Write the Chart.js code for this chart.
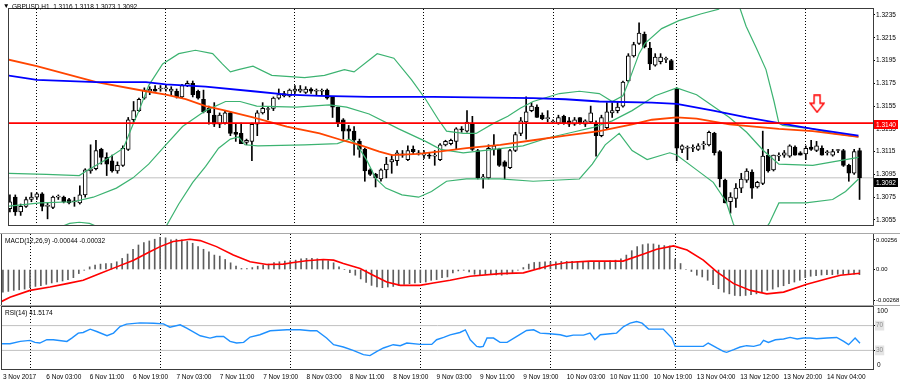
<!DOCTYPE html>
<html>
<head>
<meta charset="utf-8">
<title>GBPUSD,H1</title>
<script src="https://cdn.jsdelivr.net/npm/chart.js@4.4.1/dist/chart.umd.min.js"></script>
<style>
  html, body { margin: 0; padding: 0; background: #fff; }
  #wrap { position: relative; width: 900px; height: 384px; overflow: hidden; font-family: "Liberation Sans", Arial, sans-serif; }
  .pane { position: absolute; left: 0; }
  .txt { position: absolute; font-size: 6.5px; line-height: 8px; color: #000; white-space: pre; }
  .tag { position: absolute; left: 874px; width: 24px; height: 9px; font-size: 6.5px; line-height: 9px; color: #fff; text-align: center; }
  .sep { position: absolute; left: 0; width: 900px; height: 1px; background: #a8a8a8; }
</style>
</head>
<body>
<div id="wrap">
  <canvas id="chart-main" class="pane" width="900" height="234" style="top:0"></canvas>
  <canvas id="chart-macd" class="pane" width="900" height="74" style="top:233px"></canvas>
  <canvas id="chart-rsi" class="pane" width="900" height="78" style="top:306px"></canvas>
  <div class="sep" style="top:233px"></div>
  <div class="sep" style="top:305px"></div>

  <div class="txt" style="left:3px;top:2px;">▼</div>
  <div class="txt" style="left:12px;top:2.5px;">GBPUSD,H1  1.3116 1.3118 1.3073 1.3092</div>
  <div class="txt" style="left:5px;top:237px;">MACD(12,26,9) -0.00044 -0.00032</div>
  <div class="txt" style="left:5px;top:309px;">RSI(14) 41.5174</div>
  <div class="txt" style="left:877px;top:307px;">100</div>
  <div class="txt" style="left:877px;top:361px;">0</div>
  <div class="tag" style="top:119.5px;background:#ff0000;">1.3140</div>
  <div class="tag" style="top:177.5px;background:#000;">1.3092</div>
</div>
<script>
const FONT = "'Liberation Sans', Arial, sans-serif";
const X_MIN = -0.17;
const X_MAX = 160.5;
const PRICE_MIN = 1.30506;
const PRICE_MAX = 1.32402;
const MACD_MIN = -0.00315;
const MACD_MAX = 0.00307;

// hourly candles, 3 Nov 19:00 .. 14 Nov 10:00
const openP = [1.3065,1.3075,1.3062,1.3067,1.3073,1.3075,1.3078,1.3067,1.3066,1.3075,
  1.3075,1.3073,1.3071,1.3070,1.3077,1.3098,1.3100,1.3117,1.3110,1.3107,
  1.3098,1.3103,1.3117,1.3143,1.3151,1.3162,1.3168,1.3170,1.3170,1.3170,
  1.3168,1.3168,1.3163,1.3173,1.3175,1.3168,1.3161,1.3153,1.3147,1.3139,
  1.3140,1.3149,1.3132,1.3131,1.3123,1.3124,1.3139,1.3149,1.3152,1.3153,
  1.3162,1.3164,1.3164,1.3168,1.3168,1.3167,1.3170,1.3168,1.3168,1.3169,
  1.3163,1.3154,1.3143,1.3135,1.3133,1.3124,1.3117,1.3099,1.3095,1.3091,
  1.3099,1.3106,1.3107,1.3112,1.3108,1.3117,1.3113,1.3112,1.3112,1.3111,
  1.3108,1.3121,1.3122,1.3124,1.3135,1.3133,1.3140,1.3116,1.3092,1.3092,
  1.3117,1.3117,1.3106,1.3101,1.3116,1.3131,1.3141,1.3151,1.3154,1.3147,
  1.3144,1.3141,1.3140,1.3146,1.3142,1.3139,1.3145,1.3139,1.3141,1.3140,
  1.3129,1.3136,1.3149,1.3151,1.3155,1.3177,1.3199,1.3210,1.3218,1.3206,
  1.3191,1.3194,1.3196,1.3195,1.3170,1.3117,1.3118,1.3118,1.3117,1.3121,
  1.3121,1.3131,1.3115,1.3090,1.3071,1.3074,1.3083,1.3090,1.3097,1.3084,
  1.3087,1.3112,1.3099,1.3111,1.3112,1.3111,1.3119,1.3114,1.3113,1.3119,
  1.3116,1.3118,1.3114,1.3112,1.3116,1.3116,1.3103,1.3096,1.3116];
const highP = [1.3077,1.3077,1.3069,1.3075,1.3079,1.3079,1.3079,1.3070,1.3076,1.3077,
  1.3076,1.3074,1.3075,1.3085,1.3100,1.3121,1.3125,1.3118,1.3114,1.3112,
  1.3106,1.3120,1.3145,1.3159,1.3162,1.3171,1.3172,1.3173,1.3173,1.3174,
  1.3172,1.3170,1.3174,1.3177,1.3177,1.3169,1.3169,1.3155,1.3158,1.3149,
  1.3151,1.3150,1.3139,1.3140,1.3126,1.3140,1.3151,1.3158,1.3154,1.3163,
  1.3170,1.3168,1.3170,1.3173,1.3173,1.3172,1.3171,1.3170,1.3170,1.3170,
  1.3163,1.3154,1.3144,1.3138,1.3137,1.3126,1.3118,1.3100,1.3096,1.3100,
  1.3110,1.3112,1.3116,1.3116,1.3120,1.3120,1.3116,1.3116,1.3114,1.3116,
  1.3122,1.3125,1.3126,1.3136,1.3137,1.3151,1.3146,1.3117,1.3095,1.3121,
  1.3130,1.3118,1.3107,1.3117,1.3132,1.3145,1.3163,1.3158,1.3156,1.3149,
  1.3151,1.3143,1.3147,1.3147,1.3145,1.3145,1.3145,1.3143,1.3155,1.3142,
  1.3147,1.3158,1.3158,1.3159,1.3177,1.3201,1.3211,1.3228,1.3220,1.3211,
  1.3201,1.3201,1.3198,1.3196,1.3171,1.3121,1.3120,1.3121,1.3122,1.3124,
  1.3133,1.3132,1.3116,1.3091,1.3079,1.3087,1.3096,1.3100,1.3099,1.3089,
  1.3133,1.3117,1.3112,1.3114,1.3116,1.3121,1.3120,1.3115,1.3120,1.3125,
  1.3124,1.3120,1.3116,1.3117,1.3117,1.3117,1.3104,1.3117,1.3118];
const lowP = [1.3062,1.3059,1.3059,1.3066,1.3071,1.3073,1.3063,1.3056,1.3065,1.3073,
  1.3070,1.3069,1.3067,1.3069,1.3075,1.3096,1.3099,1.3104,1.3094,1.3097,
  1.3096,1.3102,1.3116,1.3141,1.3150,1.3161,1.3165,1.3168,1.3168,1.3168,
  1.3165,1.3162,1.3162,1.3172,1.3163,1.3161,1.3149,1.3139,1.3137,1.3136,
  1.3139,1.3129,1.3124,1.3122,1.3121,1.3107,1.3129,1.3148,1.3143,1.3151,
  1.3161,1.3163,1.3163,1.3166,1.3167,1.3166,1.3166,1.3165,1.3165,1.3161,
  1.3145,1.3137,1.3126,1.3126,1.3112,1.3110,1.3089,1.3094,1.3084,1.3089,
  1.3092,1.3096,1.3103,1.3110,1.3107,1.3113,1.3112,1.3109,1.3109,1.3103,
  1.3107,1.3120,1.3121,1.3117,1.3132,1.3132,1.3116,1.3091,1.3083,1.3091,
  1.3112,1.3102,1.3091,1.3100,1.3115,1.3129,1.3126,1.3150,1.3145,1.3143,
  1.3141,1.3140,1.3139,1.3139,1.3137,1.3138,1.3139,1.3137,1.3140,1.3111,
  1.3128,1.3135,1.3145,1.3149,1.3154,1.3176,1.3198,1.3209,1.3206,1.3187,
  1.3190,1.3192,1.3193,1.3187,1.3107,1.3114,1.3108,1.3115,1.3116,1.3117,
  1.3120,1.3112,1.3084,1.3070,1.3061,1.3066,1.3079,1.3088,1.3074,1.3083,
  1.3086,1.3097,1.3098,1.3107,1.3110,1.3110,1.3112,1.3112,1.3108,1.3116,
  1.3115,1.3112,1.3112,1.3111,1.3114,1.3102,1.3089,1.3095,1.3073];
const closeP = [1.3071,1.3062,1.3067,1.3073,1.3075,1.3078,1.3067,1.3067,1.3075,1.3076,
  1.3071,1.3070,1.3071,1.3077,1.3099,1.3100,1.3116,1.3110,1.3104,1.3098,
  1.3103,1.3118,1.3143,1.3151,1.3161,1.3169,1.3170,1.3168,1.3170,1.3171,
  1.3170,1.3163,1.3173,1.3175,1.3165,1.3162,1.3150,1.3149,1.3139,1.3147,
  1.3149,1.3131,1.3130,1.3122,1.3125,1.3139,1.3149,1.3153,1.3152,1.3162,
  1.3165,1.3166,1.3169,1.3170,1.3170,1.3170,1.3168,1.3168,1.3168,1.3162,
  1.3154,1.3140,1.3133,1.3133,1.3125,1.3117,1.3098,1.3095,1.3092,1.3099,
  1.3104,1.3108,1.3114,1.3113,1.3116,1.3115,1.3113,1.3112,1.3111,1.3111,
  1.3121,1.3124,1.3125,1.3135,1.3134,1.3141,1.3117,1.3092,1.3092,1.3118,
  1.3120,1.3103,1.3102,1.3116,1.3130,1.3142,1.3150,1.3155,1.3145,1.3144,
  1.3144,1.3141,1.3145,1.3140,1.3139,1.3143,1.3140,1.3142,1.3149,1.3129,
  1.3145,1.3150,1.3151,1.3154,1.3176,1.3199,1.3209,1.3219,1.3207,1.3192,
  1.3198,1.3198,1.3196,1.3187,1.3118,1.3120,1.3118,1.3118,1.3120,1.3121,
  1.3132,1.3114,1.3091,1.3070,1.3075,1.3083,1.3091,1.3098,1.3083,1.3088,
  1.3111,1.3098,1.3112,1.3112,1.3114,1.3120,1.3112,1.3112,1.3118,1.3117,
  1.3120,1.3112,1.3114,1.3115,1.3116,1.3103,1.3096,1.3115,1.3092];

// [bar, price]
const blueMA = [[-0.5,1.3182],[5,1.3178],[16.1,1.3176],[25.3,1.3176],[29,1.3174],[36.4,1.3172],
  [45.2,1.3168],[51.5,1.3165],[57.6,1.3164],[66.8,1.3163],[78.8,1.3163],[97.3,1.3162],
  [103.3,1.3161],[109.6,1.3159],[119.4,1.3158],[124,1.3157],[130.8,1.3151],[137,1.3145],
  [143,1.3140],[149.3,1.3135],[157.8,1.3129]];
const orangeMA = [[-0.5,1.3196],[5,1.3190],[16.1,1.3176],[25.3,1.3168],[29,1.3165],[32.7,1.3161],
  [36.4,1.3155],[40.1,1.3151],[45.2,1.3145],[51.5,1.3137],[57.6,1.3131],[61.8,1.3125],
  [65,1.3121],[68.7,1.3115],[71.1,1.3112],[76,1.3113],[79.7,1.3115],[84.9,1.3118],
  [91.2,1.3121],[97.3,1.3125],[103.3,1.3129],[109.6,1.3133],[115.7,1.3139],[119.4,1.3143],
  [124,1.3145],[127.7,1.3144],[133.8,1.3139],[143,1.3135],[149.3,1.3133],[157.8,1.3128]];
const bbUpper = [[-0.5,1.3096],[6.8,1.3095],[12.9,1.3094],[14.2,1.3098],[17.9,1.3108],[21.1,1.3118],
  [22.9,1.3139],[24,1.3151],[25.8,1.3173],[28.4,1.3192],[31.4,1.3201],[34.5,1.3204],
  [37.7,1.3201],[39.5,1.3192],[41,1.3185],[42.5,1.3187],[45.2,1.3190],[48.7,1.3182],
  [54.8,1.3180],[58.5,1.3182],[62.2,1.3187],[64,1.3185],[68.3,1.3201],[71.4,1.3197],
  [74.7,1.3178],[77.3,1.3161],[79.7,1.3143],[81.2,1.3133],[84.3,1.3131],[86.7,1.3131],
  [90,1.3140],[92.6,1.3146],[94.9,1.3153],[97.3,1.3159],[102.2,1.3166],[105.9,1.3168],
  [109.6,1.3166],[112,1.3159],[114,1.3164],[115.2,1.3178],[117,1.3201],[118.1,1.3210],
  [121.2,1.3223],[124.4,1.3230],[128.6,1.3236],[131.8,1.3240],[133.6,1.3250],[135.1,1.3250],
  [136.9,1.3225],[138.8,1.3206],[140.6,1.3187],[142.1,1.3159],[143,1.3140],[143.7,1.3138],
  [149.3,1.3135],[153,1.3131],[157.8,1.3128]];
const bbMiddle = [[-0.5,1.3067],[5.6,1.3070],[11.8,1.3071],[15.5,1.3075],[19.8,1.3083],[22.9,1.3092],
  [25.8,1.3104],[29,1.3121],[32.1,1.3137],[36.4,1.3151],[40.1,1.3159],[42.8,1.3159],
  [45.9,1.3155],[53.3,1.3154],[59.4,1.3156],[62.6,1.3154],[66.8,1.3148],[72.3,1.3135],
  [77.3,1.3124],[80.1,1.3117],[84.3,1.3114],[90,1.3117],[95.4,1.3120],[100,1.3127],
  [104.6,1.3132],[108.3,1.3136],[112,1.3142],[115.7,1.3151],[120,1.3164],[124,1.3171],
  [127.7,1.3165],[133.8,1.3145],[137,1.3132],[140.1,1.3116],[143,1.3104],[149.3,1.3103],
  [153,1.3106],[155.4,1.3108],[157.8,1.3110]];
const bbLower = [[-0.5,1.3038],[6.8,1.3044],[11.1,1.3052],[12.9,1.3053],[14.8,1.3052],[17.9,1.3046],
  [23.5,1.3036],[28.1,1.3044],[29,1.3049],[31.4,1.3069],[34,1.3088],[36.4,1.3102],
  [38.8,1.3118],[41,1.3126],[42.5,1.3128],[43.7,1.3121],[46.1,1.3120],[54.8,1.3121],
  [60.9,1.3122],[63.1,1.3126],[64.4,1.3122],[66.3,1.3108],[68.1,1.3091],[69.9,1.3083],
  [72.9,1.3077],[76,1.3075],[78.4,1.3080],[81.2,1.3089],[84.9,1.3091],[91.2,1.3091],
  [97.3,1.3089],[105.9,1.3091],[108.3,1.3104],[110.7,1.3121],[113.3,1.3131],[115.7,1.3116],
  [118.5,1.3108],[122.7,1.3114],[124,1.3112],[127.7,1.3099],[130.8,1.3088],[133.2,1.3071],
  [134.5,1.3052],[136,1.3036],[138.8,1.3036],[141.2,1.3052],[143,1.3070],[148,1.3070],
  [153,1.3073],[155.4,1.3080],[157.8,1.3091]];

const priceTicks = [1.3235,1.3215,1.3195,1.3175,1.3155,1.3135,1.3115,1.3095,1.3075,1.3055];
const levelPrice = 1.3140;
const lastPrice = 1.3092;
const arrowMark = [150.1, 1.3157];

const macdHist = [-0.00195,-0.00189,-0.00180,-0.00175,-0.00169,-0.00157,-0.00146,-0.00140,-0.00128,-0.00116,
  -0.00108,-0.00099,-0.00087,-0.00070,-0.00035,-0.00006,0.00023,0.00038,0.00047,0.00052,
  0.00052,0.00067,0.00096,0.00134,0.00175,0.00212,0.00233,0.00247,0.00262,0.00279,
  0.00274,0.00256,0.00262,0.00256,0.00242,0.00227,0.00198,0.00175,0.00154,0.00125,
  0.00116,0.00087,0.00058,0.00029,0.00009,0.00009,0.00017,0.00029,0.00038,0.00047,
  0.00061,0.00067,0.00073,0.00076,0.00081,0.00093,0.00096,0.00096,0.00093,0.00087,
  0.00076,0.00058,0.00023,0.00000,-0.00026,-0.00049,-0.00081,-0.00111,-0.00137,-0.00151,
  -0.00157,-0.00151,-0.00146,-0.00137,-0.00128,-0.00122,-0.00116,-0.00111,-0.00108,-0.00093,
  -0.00087,-0.00070,-0.00064,-0.00029,-0.00012,-0.00006,-0.00020,-0.00041,-0.00044,-0.00041,
  -0.00041,-0.00047,-0.00049,-0.00041,-0.00029,-0.00006,0.00017,0.00047,0.00061,0.00064,
  0.00067,0.00067,0.00067,0.00070,0.00070,0.00070,0.00070,0.00067,0.00070,0.00064,
  0.00067,0.00070,0.00076,0.00081,0.00093,0.00125,0.00163,0.00198,0.00215,0.00221,
  0.00221,0.00212,0.00207,0.00204,0.00090,0.00052,0.00000,-0.00017,-0.00049,-0.00064,
  -0.00093,-0.00131,-0.00166,-0.00195,-0.00210,-0.00224,-0.00227,-0.00224,-0.00218,-0.00210,
  -0.00195,-0.00180,-0.00169,-0.00151,-0.00140,-0.00122,-0.00108,-0.00093,-0.00070,-0.00058,
  -0.00052,-0.00047,-0.00044,-0.00044,-0.00041,-0.00041,-0.00041,-0.00041,-0.00044];
const macdSignal = [[-0.5,-0.00282],[1.3,-0.00239],[5,-0.00180],[8.7,-0.00151],[11.8,-0.00122],
  [14.8,-0.00093],[17.9,-0.00035],[21,0.00023],[24.1,0.00081],[27.1,0.00154],[29,0.00198],
  [31.4,0.00242],[34.5,0.00262],[36.4,0.00250],[39.4,0.00198],[42.5,0.00125],[45.6,0.00067],
  [48.7,0.00044],[51.7,0.00047],[53.6,0.00061],[56,0.00076],[59.1,0.00087],[61,0.00081],
  [62.8,0.00052],[65.9,0.00009],[68.3,-0.00049],[70.8,-0.00108],[73.3,-0.00137],[76.9,-0.00137],
  [79.4,-0.00116],[82.5,-0.00093],[86.2,-0.00058],[91.7,-0.00035],[96,-0.00029],[100.9,0.00035],
  [104,0.00061],[108.3,0.00073],[114.4,0.00073],[118.2,0.00134],[120.6,0.00175],[123.7,0.00204],
  [126.2,0.00169],[129.2,0.00081],[131.7,-0.00020],[134.8,-0.00122],[137.9,-0.00180],
  [140.9,-0.00210],[144,-0.00195],[148.3,-0.00128],[152,-0.00079],[154.5,-0.00049],[158.1,-0.00032]];
const macdTicks = [0.00256, 0, -0.00268];

const rsiLine = [[-0.5,40.8],[1.3,40.8],[3.2,44.5],[5,46.1],[5.9,42.9],[6.8,41.9],[8.1,47.2],[9.3,47.2],
  [11.8,44.5],[12.7,49.9],[13.9,57.9],[14.8,58.9],[16.1,64.3],[17.3,60.5],[19.2,53.6],[20.4,57.9],
  [21.6,68.5],[22.8,72.3],[25.3,74.4],[27.8,73.9],[29.6,72.8],[30.8,67.5],[32.7,71.2],[33.9,65.9],
  [36.4,53.6],[38.2,49.9],[39.4,52.5],[40.7,52.5],[41.9,44.5],[43.1,41.9],[44.4,42.9],[45.6,51.5],
  [47.4,55.2],[49.3,61.6],[52.4,63.2],[54.8,63.2],[56.7,61.6],[57.9,61.6],[59.7,49.9],[61,39.2],
  [62.8,35.5],[64.6,30.1],[66.5,23.2],[67.7,21.6],[69,28.5],[70.2,33.9],[72,39.2],[73.3,37.6],
  [74.5,41.9],[77,39.7],[79.1,39.7],[80,47.2],[81.3,50.9],[82.5,55],[84.3,58.9],[85.3,63.2],
  [86.2,47.2],[87.4,36.5],[88,35.5],[88.6,36.5],[89.3,49.9],[90.5,49.9],[91.7,42.9],[93,42.9],
  [94.8,52.5],[96.6,62.1],[97.9,63.2],[99.1,57.9],[100.9,56.8],[102.8,55.2],[104,52.5],[105.2,54.7],
  [107.1,54.7],[108.3,57.9],[109.2,47.2],[110.2,55.2],[112,56.8],[113.2,57.9],[114.5,68.5],
  [115.7,73.9],[116.9,76.5],[117.9,73.9],[119.1,64.3],[121.8,64.3],[123.4,49.9],[124,36.5],
  [125.5,36.5],[129.2,36.5],[130.1,41.9],[131.7,33.9],[132.9,28.5],[133.5,26.9],[134.8,31.2],
  [136,35.5],[137.2,37.6],[138.5,36.5],[139.7,39.2],[140.3,46.1],[141.2,42.9],[142.5,47.2],
  [144,48.3],[145.2,50.9],[146.5,48.3],[147.7,49.9],[148.9,49.9],[150.1,48.8],[152,49.9],
  [153.8,50.9],[155.1,44.5],[156,39.2],[157.2,49.9],[158.1,41.5]];
const rsiLevels = [70, 30];

const daySeparators = [5, 29, 53, 77, 101, 124, 148];
const timeLabelBars = [0, 8, 16, 24, 32, 40, 48, 56, 64, 72, 80, 88, 96, 104, 112, 120, 128, 136, 144, 152];
const timeLabels = ["3 Nov 2017", "6 Nov 03:00", "6 Nov 11:00", "6 Nov 19:00", "7 Nov 03:00",
  "7 Nov 11:00", "7 Nov 19:00", "8 Nov 03:00", "8 Nov 11:00", "8 Nov 19:00", "9 Nov 03:00",
  "9 Nov 11:00", "9 Nov 19:00", "10 Nov 03:00", "10 Nov 11:00", "10 Nov 19:00", "13 Nov 04:00",
  "13 Nov 12:00", "13 Nov 20:00", "14 Nov 04:00"];

const framePlugin = {
  id: "frame",
  afterDraw(chart) {
    const { ctx, chartArea: a } = chart;
    ctx.save();
    ctx.strokeStyle = "#3c3c3c";
    ctx.lineWidth = 1;
    ctx.strokeRect(Math.round(a.left) - 0.5, Math.round(a.top) - 0.5,
      Math.round(a.right - a.left) + 1, Math.round(a.bottom - a.top) + 1);
    ctx.restore();
  },
};

function pts(list) {
  return list.map(p => ({ x: p[0], y: p[1] }));
}
function hLine(v) {
  return [{ x: X_MIN, y: v }, { x: X_MAX, y: v }];
}
function lineDs(data, color, width, order) {
  return { type: "line", data, borderColor: color, borderWidth: width, pointRadius: 0, tension: 0, order };
}

function sepAxis() {
  return {
    type: "linear", min: X_MIN, max: X_MAX, offset: false, bounds: "data",
    afterBuildTicks: s => { s.ticks = daySeparators.map(v => ({ value: v })); },
    afterFit: s => { s.height = 0; s.paddingLeft = 0; s.paddingRight = 0; },
    ticks: { display: false },
    grid: { color: "#000", lineWidth: 1, drawTicks: false, offset: false },
    border: { display: false, dash: [1, 2] },
  };
}
function rightAxis(min, max, ticks, fmt, tickStyle) {
  return {
    type: "linear", position: "right", min, max, bounds: "data",
    afterBuildTicks: s => { s.ticks = ticks.map(v => ({ value: v })); },
    afterFit: s => { s.width = 27; s.paddingTop = 0; s.paddingBottom = 0; },
    ticks: Object.assign({ autoSkip: false, font: { family: FONT, size: 6.5 }, color: "#000", padding: 1, callback: fmt }, tickStyle || {}),
    grid: { drawOnChartArea: false, drawTicks: true, tickLength: 2, tickColor: "#000" },
    border: { display: false },
  };
}
const baseOptions = {
  responsive: false,
  animation: false,
  events: [],
  plugins: { legend: { display: false }, tooltip: { enabled: false } },
};

function makeArrow() {
  const c = document.createElement("canvas");
  c.width = 16;
  c.height = 19;
  const g = c.getContext("2d");
  g.beginPath();
  g.moveTo(5, 1); g.lineTo(11, 1); g.lineTo(11, 9); g.lineTo(15, 9);
  g.lineTo(8, 18); g.lineTo(1, 9); g.lineTo(5, 9); g.closePath();
  g.fillStyle = "#fff";
  g.fill();
  g.strokeStyle = "#ff0000";
  g.lineWidth = 1.4;
  g.stroke();
  return c;
}

function renderMain() {
  const idx = openP.map((_, i) => i);
  new Chart(document.getElementById("chart-main"), {
    type: "bar",
    data: {
      datasets: [
        { type: "line", data: [{ x: arrowMark[0], y: arrowMark[1] }], showLine: false,
          pointStyle: makeArrow(), pointRadius: 8, order: 0 },
        lineDs(hLine(levelPrice), "#ff0000", 1.6, 1),
        lineDs(pts(blueMA), "#0000ff", 1.8, 2),
        lineDs(pts(orangeMA), "#ff4500", 1.8, 2),
        lineDs(pts(bbUpper), "#3cb371", 1.2, 3),
        lineDs(pts(bbMiddle), "#3cb371", 1.2, 3),
        lineDs(pts(bbLower), "#3cb371", 1.2, 3),
        {
          data: idx.map(i => ({ x: i, y: [openP[i], closeP[i]] })),
          backgroundColor: idx.map(i => closeP[i] >= openP[i] ? "#fff" : "#000"),
          borderColor: "#000", borderWidth: 1, borderSkipped: false,
          barThickness: 4, minBarLength: 1, grouped: false, order: 4,
        },
        {
          data: idx.map(i => ({ x: i, y: [lowP[i], highP[i]] })),
          backgroundColor: "#000", barThickness: 1, grouped: false, order: 5,
        },
        lineDs(hLine(lastPrice), "#c0c0c0", 1, 6),
      ],
    },
    options: Object.assign({}, baseOptions, {
      layout: { padding: { left: 2, top: 2, right: 0, bottom: 2 } },
      scales: {
        x: sepAxis(),
        y: rightAxis(PRICE_MIN, PRICE_MAX, priceTicks, v => v.toFixed(4)),
      },
    }),
    plugins: [framePlugin],
  });
}

function renderMacd() {
  new Chart(document.getElementById("chart-macd"), {
    type: "bar",
    data: {
      datasets: [
        lineDs(pts(macdSignal), "#ff0000", 1.6, 0),
        { data: macdHist.map((v, i) => ({ x: i, y: v })), backgroundColor: "#5e5e5e",
          barThickness: 1, grouped: false, order: 1 },
      ],
    },
    options: Object.assign({}, baseOptions, {
      layout: { padding: { left: 2, top: 1, right: 0, bottom: 1 } },
      scales: {
        x: sepAxis(),
        y: rightAxis(MACD_MIN, MACD_MAX, macdTicks, v => v === 0 ? "0.00" : v.toFixed(5),
          { font: { family: FONT, size: 5.9 } }),
      },
    }),
    plugins: [framePlugin],
  });
}

function renderRsi() {
  new Chart(document.getElementById("chart-rsi"), {
    type: "line",
    data: {
      datasets: [
        lineDs(pts(rsiLine), "#1e90ff", 1.4, 0),
        ...rsiLevels.map(v => lineDs(hLine(v), "#c0c0c0", 1, 1)),
      ],
    },
    options: Object.assign({}, baseOptions, {
      layout: { padding: { left: 2, top: 1, right: 0, bottom: 0 } },
      scales: {
        x: sepAxis(),
        xl: {
          type: "linear", position: "bottom", min: X_MIN, max: X_MAX, offset: false, bounds: "data",
          afterBuildTicks: s => { s.ticks = timeLabelBars.map(v => ({ value: v })); },
          afterFit: s => { s.height = 15; s.paddingLeft = 0; s.paddingRight = 0; },
          ticks: { autoSkip: false, maxRotation: 0, minRotation: 0, align: "start", padding: 1,
            font: { family: FONT, size: 6.5 }, color: "#000", callback: (v, i) => timeLabels[i] },
          grid: { drawOnChartArea: false, drawTicks: true, tickLength: 3, tickColor: "rgba(0,0,0,0)" },
          border: { display: false },
        },
        y: rightAxis(0, 100, rsiLevels, v => String(v),
          { color: "#8c8c8c", showLabelBackdrop: true, backdropColor: "#e4e4e4", backdropPadding: 1 }),
      },
    }),
    plugins: [framePlugin],
  });
}

renderMain();
renderMacd();
renderRsi();
</script>
</body>
</html>
